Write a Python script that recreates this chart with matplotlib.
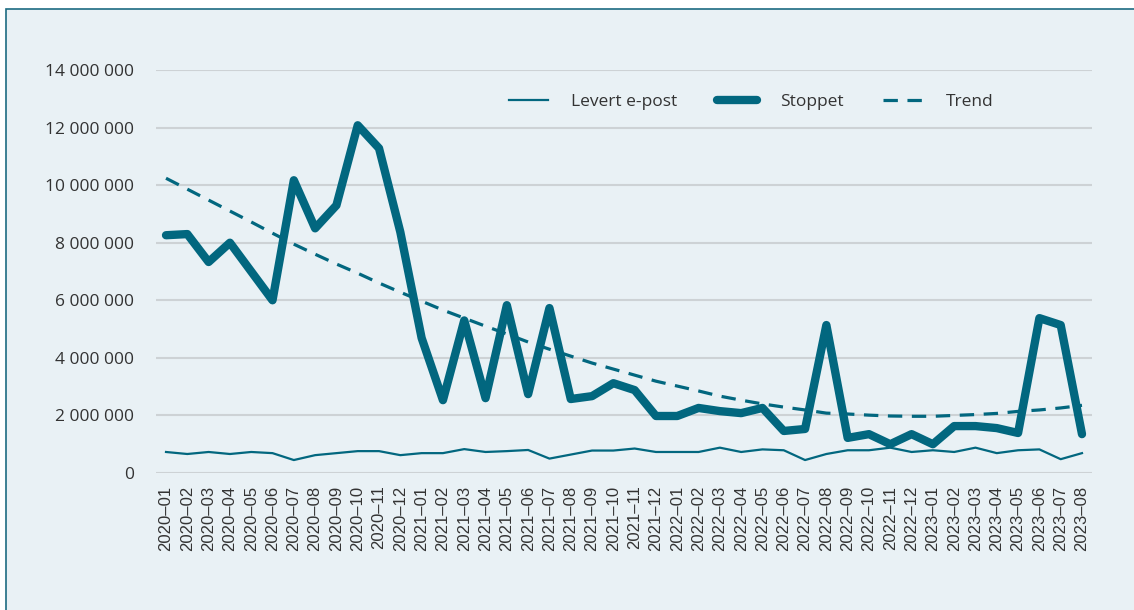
import numpy as np
import matplotlib.pyplot as plt
from matplotlib.patches import Rectangle
from matplotlib.ticker import FuncFormatter

months = ['2020–01', '2020–02', '2020–03', '2020–04', '2020–05', '2020–06',
          '2020–07', '2020–08', '2020–09', '2020–10', '2020–11', '2020–12',
          '2021–01', '2021–02', '2021–03', '2021–04', '2021–05', '2021–06',
          '2021–07', '2021–08', '2021–09', '2021–10', '2021–11', '2021–12',
          '2022–01', '2022–02', '2022–03', '2022–04', '2022–05', '2022–06',
          '2022–07', '2022–08', '2022–09', '2022–10', '2022–11', '2022–12',
          '2023–01', '2023–02', '2023–03', '2023–04', '2023–05', '2023–06',
          '2023–07', '2023–08']

# millions
levert = [0.73, 0.66, 0.73, 0.66, 0.73, 0.69, 0.45, 0.62, 0.69, 0.76, 0.76, 0.62,
          0.69, 0.69, 0.83, 0.73, 0.76, 0.80, 0.50, 0.64, 0.78, 0.78, 0.85, 0.73,
          0.73, 0.73, 0.88, 0.73, 0.82, 0.79, 0.45, 0.66, 0.79, 0.79, 0.88, 0.73,
          0.79, 0.73, 0.88, 0.69, 0.79, 0.82, 0.48, 0.69]

stoppet = [8.26, 8.30, 7.33, 8.00, 7.00, 6.00, 10.17, 8.50, 9.30, 12.08, 11.28, 8.37,
           4.69, 2.53, 5.30, 2.60, 5.83, 2.74, 5.73, 2.57, 2.67, 3.12, 2.88, 1.98,
           1.98, 2.26, 2.15, 2.08, 2.26, 1.46, 1.53, 5.14, 1.22, 1.35, 1.00, 1.35,
           1.00, 1.63, 1.63, 1.56, 1.39, 5.38, 5.14, 1.35]

trend = [10.24, 9.86, 9.48, 9.10, 8.72, 8.33, 7.95, 7.60, 7.26, 6.94, 6.60, 6.28,
         5.97, 5.66, 5.38, 5.10, 4.83, 4.55, 4.30, 4.06, 3.82, 3.61, 3.40, 3.19,
         3.02, 2.85, 2.67, 2.53, 2.40, 2.29, 2.19, 2.08, 2.05, 2.01, 1.98, 1.97,
         1.97, 2.00, 2.03, 2.07, 2.14, 2.19, 2.26, 2.35]

teal = '#02677f'
bg = '#e9f1f5'

plt.rcParams['font.family'] = ['Open Sans', 'DejaVu Sans']

fig = plt.figure(figsize=(11.34, 6.10), dpi=100)
fig.patch.set_facecolor('white')
# panel with a border on the left and top only (others run off the image)
fig.patches.append(Rectangle((6 / 1134, -0.05), 1.0, 1.05 - 9 / 610,
                             transform=fig.transFigure, facecolor=bg,
                             edgecolor='#1d6b82', linewidth=1.2, zorder=-10))

ax = fig.add_axes([156 / 1134, 137 / 610, (1092 - 156) / 1134, (473 - 70) / 610])
ax.set_facecolor(bg)

x = np.arange(len(months))
mil = 1e6
ax.plot(x, np.array(levert) * mil, color=teal, lw=1.6, label='Levert e-post')
ax.plot(x, np.array(stoppet) * mil, color=teal, lw=6, solid_capstyle='round',
        label='Stoppet')
ax.plot(x, np.array(trend) * mil, color=teal, lw=2.3, dashes=(4.5, 3),
        label='Trend')

ax.set_ylim(0, 14e6)
ax.set_xlim(-0.47, len(months) - 1 + 0.47)
ax.set_yticks(np.arange(0, 14e6 + 1, 2e6))
ax.yaxis.set_major_formatter(FuncFormatter(lambda v, p: f'{int(v):,}'.replace(',', ' ')))
ax.set_xticks(x)
ax.set_xticklabels(months, rotation=90, family='Liberation Sans', fontsize=12)
ax.tick_params(axis='y', length=0, pad=16, labelsize=12.5, labelcolor='#333333')
ax.tick_params(axis='x', length=0, pad=9, labelcolor='#333333')
ax.grid(axis='y', color='#cdd2d5', lw=1.5)
ax.set_axisbelow(True)
for s in ax.spines.values():
    s.set_visible(False)

leg = ax.legend(loc='center', bbox_to_anchor=(751 / 1134, 1 - 102 / 610),
                bbox_transform=fig.transFigure, ncol=3, frameon=False,
                fontsize=12.5, handlelength=2.3, columnspacing=2.3,
                handletextpad=1.3)
for t in leg.get_texts():
    t.set_color('#333333')

fig.savefig('out.png', dpi=100, facecolor=fig.get_facecolor())
